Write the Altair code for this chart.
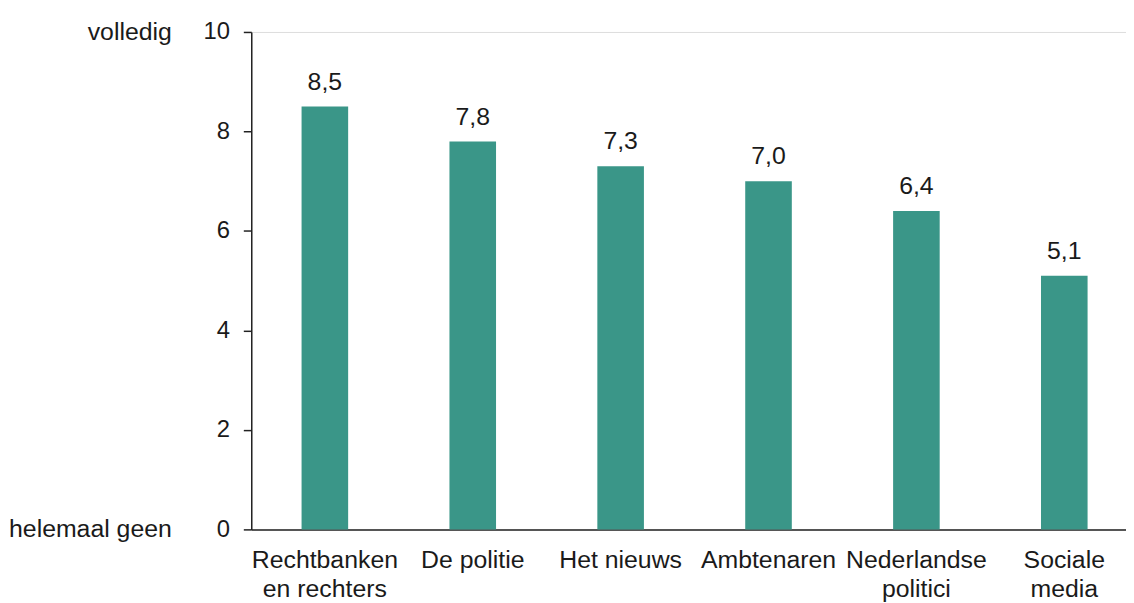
import altair as alt
import pandas as pd

categories = ["Rechtbanken|en rechters", "De politie", "Het nieuws", "Ambtenaren", "Nederlandse|politici", "Sociale|media"]
values = [8.5, 7.8, 7.3, 7.0, 6.4, 5.1]
end_labels = ["helemaal geen", "volledig"]
end_values = [0, 10]
y_ticks = [0, 2, 4, 6, 8, 10]

df = pd.DataFrame({
    "cat": categories,
    "val": values,
    "lab": [f"{v:.1f}".replace(".", ",") for v in values],
})
ends = pd.DataFrame({"lab": end_labels, "val": end_values})

FONT = "Liberation Sans"
COLOR = "#3a9688"
TXT = "#1a1a1a"

x = alt.X("cat:N", sort=categories, title=None,
          scale=alt.Scale(paddingInner=0.685, paddingOuter=0.3, align=0.567),
          axis=alt.Axis(labelExpr="split(datum.label, '|')", labelAngle=0, ticks=False,
                        domainColor="#222222", domainWidth=1.5, labelFontSize=25,
                        labelFont=FONT, labelColor=TXT, labelPadding=18,
                        labelLineHeight=30, labelBaseline="top"))
y = alt.Y("val:Q", title=None,
          scale=alt.Scale(domain=[0, 10], nice=False),
          axis=alt.Axis(values=y_ticks, grid=False, domainColor="#222222", domainWidth=1.5,
                        tickColor="#222222", tickWidth=1.5, tickSize=8, labelFontSize=24,
                        labelFont=FONT, labelColor=TXT, labelPadding=14))

bars = alt.Chart(df).mark_bar(color=COLOR).encode(x=x, y=y)
text = alt.Chart(df).mark_text(fontSize=25, font=FONT, color=TXT, dy=-17,
                               baseline="alphabetic").encode(
    x=alt.X("cat:N", sort=categories), y="val:Q", text="lab:N")
side = alt.Chart(ends).mark_text(fontSize=25, font=FONT, color=TXT, align="right",
                                 baseline="middle").encode(
    x=alt.value(-80), y=alt.Y("val:Q"), text="lab:N")

chart = alt.layer(bars, text, side).properties(
    width=881, height=501,
    autosize=alt.AutoSizeParams(type="none"),
    padding={"left": 245, "top": 22, "right": 0, "bottom": 72},
).configure_view(stroke=None).configure(background="white")

chart.save("out.html", embed_options={"renderer": "svg", "actions": False})
